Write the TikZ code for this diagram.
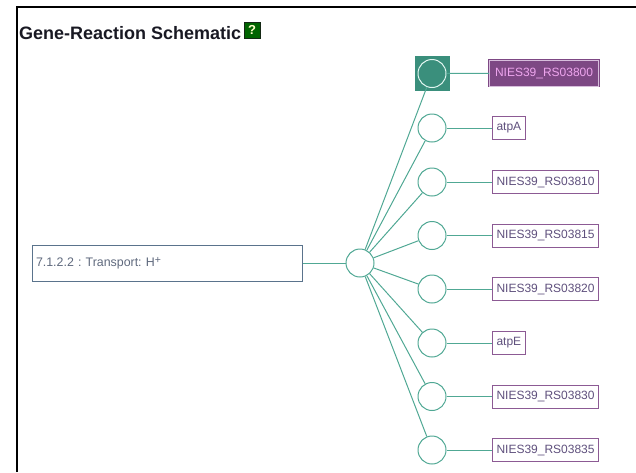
\documentclass[tikz,border=0pt]{standalone}
\usepackage{fontspec}
\setmainfont{Liberation Sans}
\frenchspacing
\definecolor{tealline}{RGB}{80,168,148}
\definecolor{tealfill}{RGB}{58,143,124}
\definecolor{genebd}{RGB}{140,90,148}
\definecolor{genetx}{RGB}{95,80,125}
\definecolor{hlfill}{RGB}{125,72,132}
\definecolor{hlbd}{RGB}{215,190,220}
\definecolor{hltx}{RGB}{238,165,238}
\definecolor{rxnbd}{RGB}{90,115,140}
\definecolor{rxntx}{RGB}{95,105,125}
\definecolor{helpg}{RGB}{0,100,0}
\definecolor{helpbd}{RGB}{20,40,20}
\definecolor{helptx}{RGB}{255,255,200}
\definecolor{titletx}{RGB}{25,25,35}
\definecolor{sqcirc}{RGB}{225,245,240}
\begin{document}
\begin{tikzpicture}[x=1pt,y=-1pt,
  gcirc/.style={circle, draw=tealline, line width=1pt, minimum size=28pt, inner sep=0pt, fill=white},
  glabel/.style={draw=genebd, line width=1pt, text=genetx, font=\fontsize{12}{14}\selectfont, minimum height=23pt, inner xsep=4pt, inner ysep=0pt, anchor=west, fill=white},
  conn/.style={draw=tealline, line width=1pt}]
\useasboundingbox (0,0) rectangle (636,472);
% frame
\draw[line width=2.5pt, black] (17,472) -- (17,7) -- (636,7);
% title
\node[anchor=base west, inner sep=0pt, font=\bfseries\fontsize{18}{20}\selectfont, text=titletx] (title) at (19,39) {Gene-Reaction Schematic};
\node[draw=helpbd, fill=helpg, minimum size=16pt, inner sep=0pt, line width=0.8pt, text=helptx, font=\bfseries\fontsize{13}{13}\selectfont] (help) at (252,30) {?};
% reaction box
\node[draw=rxnbd, line width=1pt, minimum width=270pt, minimum height=36pt, text width=262pt, align=left, inner xsep=4pt, text=rxntx, font=\fontsize{12.4}{14}\selectfont] (rxn) at (167,263) {7.1.2.2 : Transport: H\raisebox{2.5pt}{\fontsize{10.5}{10}\selectfont+}};
% central circle
\node[gcirc] (c) at (360,263) {};
% highlighted first gene
\node[fill=tealfill, minimum size=35pt, inner sep=0pt] (sq) at (432,73.5) {};
\node[circle, draw=sqcirc, line width=1pt, minimum size=28pt, inner sep=0pt] (g1) at (432,73.5) {};
\node[gcirc] (g2) at (432,128) {};
\node[gcirc] (g3) at (432,182) {};
\node[gcirc] (g4) at (432,235.5) {};
\node[gcirc] (g5) at (432,289) {};
\node[gcirc] (g6) at (432,343) {};
\node[gcirc] (g7) at (432,396.5) {};
\node[gcirc] (g8) at (432,450) {};
% labels
\node[draw=hlfill, double=hlbd, double distance=0.8pt, line width=1pt, fill=hlfill, text=hltx, font=\fontsize{12}{14}\selectfont, minimum height=26pt, inner xsep=5.5pt, inner ysep=0pt, anchor=west] (l1) at (489,73) {NIES39\_RS03800};
\node[glabel] (l2) at (492,128) {atpA};
\node[glabel] (l3) at (492,182) {NIES39\_RS03810};
\node[glabel] (l4) at (492,235.5) {NIES39\_RS03815};
\node[glabel] (l5) at (492,289) {NIES39\_RS03820};
\node[glabel] (l6) at (492,343) {atpE};
\node[glabel] (l7) at (492,396.5) {NIES39\_RS03830};
\node[glabel] (l8) at (492,450) {NIES39\_RS03835};
% connectors
\draw[conn] (rxn) -- (c);
\foreach \i in {1,...,8} {
  \draw[conn] (c) -- (g\i);
  \draw[conn] (g\i) -- (l\i);
}
\end{tikzpicture}
\end{document}
